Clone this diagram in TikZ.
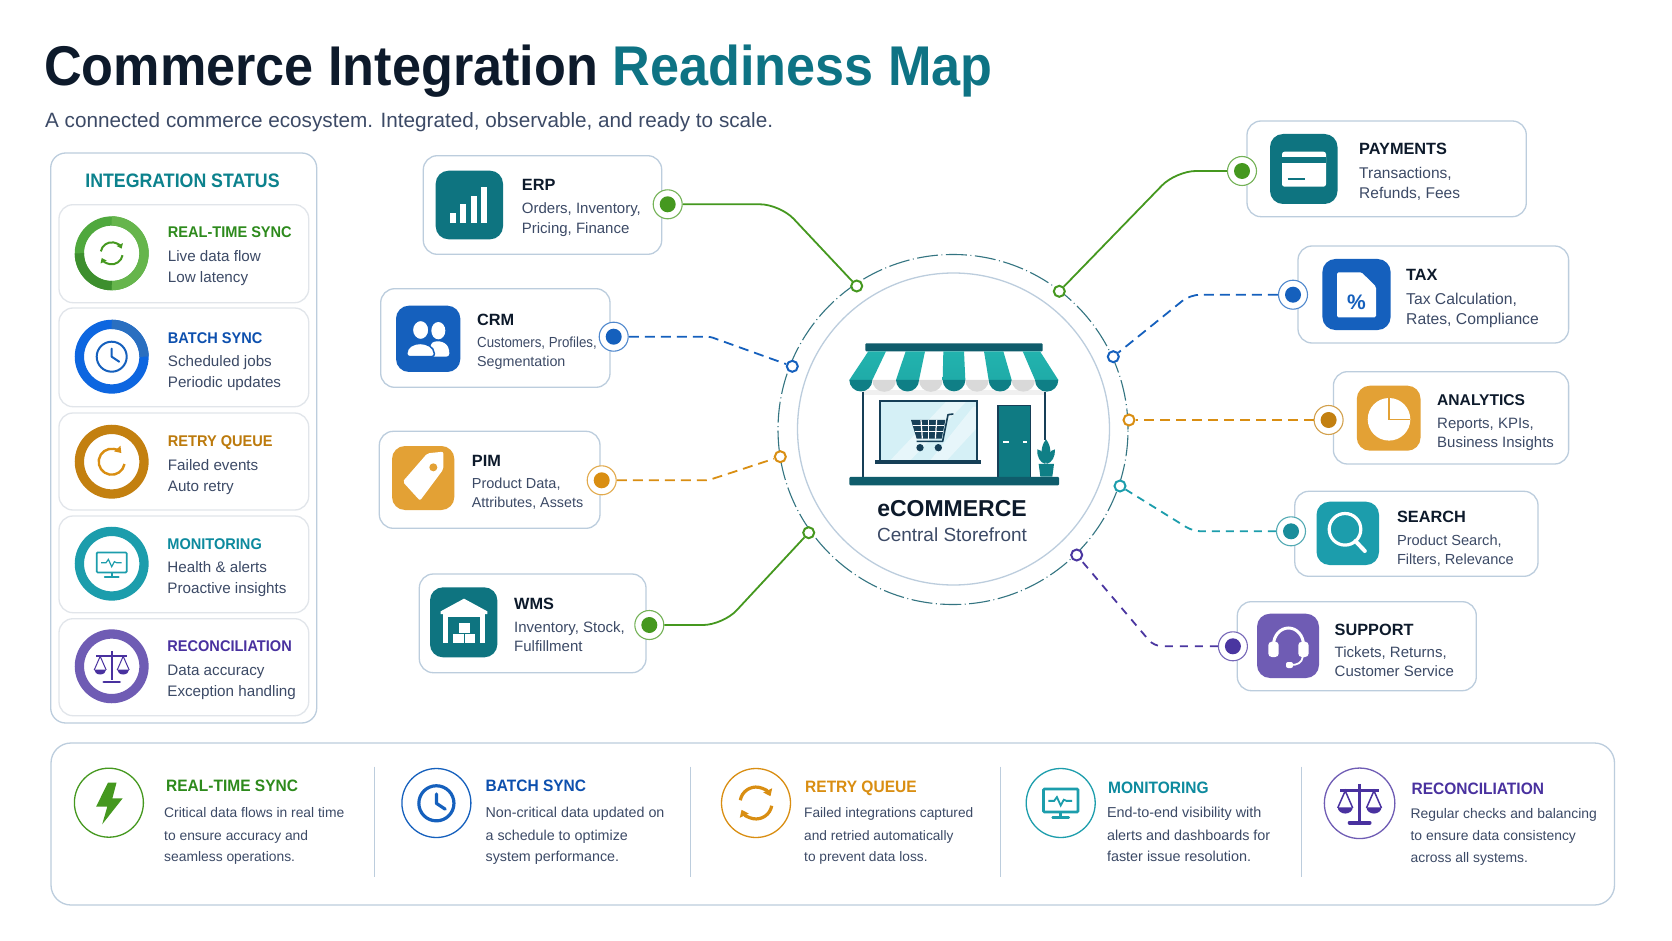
\documentclass[tikz,border=0pt]{standalone}
\usepackage{fontspec}
\setmainfont{Liberation Sans}
\newfontfamily\titlefont[FakeStretch=0.932]{Liberation Sans}
\newfontfamily\headfont[FakeStretch=0.94]{Liberation Sans}
\newfontfamily\slimfont[FakeStretch=0.91]{Liberation Sans}
\usetikzlibrary{arrows.meta}

\definecolor{inkdark}{HTML}{0D1A2B}
\definecolor{inkbody}{HTML}{3C4A66}
\definecolor{panelline}{HTML}{BCCDDD}
\definecolor{softline}{HTML}{E1E5EA}
\definecolor{tealhead}{HTML}{0E7384}
\definecolor{tealtile}{HTML}{0E7480}
\definecolor{navyteal}{HTML}{0F5C6B}
\definecolor{awning}{HTML}{22B3AE}
\definecolor{awningdark}{HTML}{0F7F86}
\definecolor{storeline}{HTML}{163F57}
\definecolor{glass}{HTML}{D5F0F6}
\definecolor{greenline}{HTML}{45981F}
\definecolor{greenring}{HTML}{4FA83D}
\definecolor{greenlight}{HTML}{66B54C}
\definecolor{greendark}{HTML}{3D8F2E}
\definecolor{greenhead}{HTML}{2D8A1C}
\definecolor{blueline}{HTML}{1560BD}
\definecolor{bluering}{HTML}{0D66E0}
\definecolor{bluesoft}{HTML}{2A6FC0}
\definecolor{bluehead}{HTML}{0D50AE}
\definecolor{orangeline}{HTML}{D98E12}
\definecolor{orangetile}{HTML}{E3A135}
\definecolor{orangehead}{HTML}{BC7A0C}
\definecolor{cyanline}{HTML}{1C9DAC}
\definecolor{cyanhead}{HTML}{0D8A9E}
\definecolor{purpleline}{HTML}{6F5CB4}
\definecolor{purpledot}{HTML}{4A36A0}
\definecolor{purplehead}{HTML}{49319F}

\newcommand{\fs}[1]{\fontsize{#1}{#1}\selectfont}

% x, y, scale, colour, line width
\newcommand{\iconsync}[5]{\begin{scope}[shift={(#1,#2)},scale=#3]
\draw[#4,line width=#5,-{Triangle[length=4.5pt,width=6.5pt,scale=#3]}] (190:11) arc (190:335:11);
\draw[#4,line width=#5,-{Triangle[length=4.5pt,width=6.5pt,scale=#3]}] (10:11) arc (10:155:11);
\end{scope}}
\newcommand{\iconclock}[5]{\begin{scope}[shift={(#1,#2)},scale=#3]
\draw[#4,line width=#5] (0,0) circle (15);
\draw[#4,line width=#5,line cap=round,line join=round] (0,-8) -- (0,0) -- (7.5,5);
\end{scope}}
\newcommand{\iconmonitor}[5]{\begin{scope}[shift={(#1,#2)},scale=#3]
\draw[#4,line width=#5,rounded corners=1pt] (-15,-11.3) rectangle (15,8.7);
\draw[#4,line width=#5] (0,8.7) -- (0,13);
\draw[#4,line width=#5,line cap=round] (-7,13.5) -- (7,13.5);
\draw[#4,line width=#5*0.7] (-10.7,-1) -- (-5.7,-1) -- (-3.3,-4.3) -- (0,3) -- (2.7,-2) -- (5,-1) -- (10,-1);
\end{scope}}
\newcommand{\iconscales}[5]{\begin{scope}[shift={(#1,#2)},scale=#3]
\draw[#4,line width=#5] (0,-15.5) -- (0,14);
\draw[#4,line width=#5] (-15.5,-10.3) -- (15.5,-10.3);
\draw[#4,line width=#5*1.3,line cap=round] (-8,15.5) -- (8,15.5);
\draw[#4,line width=#5*0.5] (-17.5,3.7) -- (-11.5,-10) -- (-5.5,3.7);
\draw[#4,line width=#5*0.5] (17.5,3.7) -- (11.5,-10) -- (5.5,3.7);
\fill[#4] (-17.5,3.2) arc (180:0:6 and 5) -- cycle;
\fill[#4] (5.5,3.2) arc (180:0:6 and 5) -- cycle;
\end{scope}}

\tikzset{
  outerbox/.style={draw=panelline,line width=1.3,fill=white,rounded corners=15,inner sep=0pt},
  softbox/.style={draw=softline,line width=1.3,fill=white,rounded corners=14,inner sep=0pt},
  syscard/.style={draw=panelline,line width=1.3,fill=white,rounded corners=14,inner sep=0pt},
  txt/.style={anchor=base west,inner sep=0pt,text=inkbody},
  mainhead/.style={txt,font=\bfseries\fs{16.3},text=inkdark},
  mainline/.style={txt,font=\fs{15}},
  stathead/.style={txt,font=\headfont\bfseries\fs{15.5},text=#1},
  statline/.style={txt,font=\fs{15.2}},
  bothead/.style={txt,font=\headfont\bfseries\fs{16.5},text=#1},
  botline/.style={txt,font=\fs{#1}},
  statring/.style={circle,draw=#1,line width=9.3,fill=white,minimum size=64.6,inner sep=0pt},
  botring/.style={circle,draw=#1,line width=1.3,fill=white,minimum size=69,inner sep=0pt},
  bigport/.style={circle,draw=#1!75,line width=1.1,fill=white,minimum size=29,inner sep=0pt,
    path picture={\fill[#1] (path picture bounding box.center) circle (8pt);}},
  hubport/.style={circle,draw=#1,line width=2,fill=white,minimum size=11,inner sep=0pt},
  link/.style={line width=1.8,#1},
  divider/.style={draw=panelline,line width=1},
}

\begin{document}
\begin{tikzpicture}[x=1pt,y=-1pt]
\useasboundingbox (0,0) rectangle (1672,941);
\fill[white] (0,0) rectangle (1672,941);

% heading
\node[txt,font=\titlefont\bfseries\fs{56},text=inkdark] (maintitle) at (44,85.5) {Commerce Integration \textcolor{tealhead}{Readiness Map}};
\node[txt,font=\fs{20.7}] (subtitle) at (45,128) {A connected commerce ecosystem. Integrated, observable, and ready to scale.};

% status panel
\node[outerbox,minimum width=266,minimum height=570] (statuspanel) at (183.7,438) {};
\node[anchor=base,inner sep=0pt,font=\slimfont\bfseries\fs{19.5},text=tealtile!90!cyan] (statustitle) at (182.5,188) {INTEGRATION STATUS};
\node[softbox,minimum width=249.7,minimum height=98] (statsync) at (183.85,253.7) {};
\node[softbox,minimum width=249.7,minimum height=98.7] (statbatch) at (183.85,357.35) {};
\node[softbox,minimum width=249.7,minimum height=97] (statretry) at (183.85,461.5) {};
\node[softbox,minimum width=249.7,minimum height=96.7] (statmon) at (183.85,564.35) {};
\node[softbox,minimum width=249.7,minimum height=97] (statrec) at (183.85,667.2) {};

\node[statring=greenring] (syncring) at (111.7,253.3) {};
\draw[line width=9.3,greenlight] (111.7,220.95) arc (270:450:32.35);
\draw[line width=9.3,greendark] (111.7,285.65) arc (90:180:32.35);
\iconsync{111.7}{253.3}{1}{greenline}{2}
\node[statring=bluering] (batchring) at (111.7,356.7) {};
\draw[line width=9.3,bluesoft] (111.7,324.35) arc (270:360:32.35);
\iconclock{111.7}{356.7}{1}{blueline}{2}
\node[statring=orangeline!90!black] (retryring) at (111.7,461.7) {};
\draw[orangeline,line width=2.4,-{Triangle[length=6pt,width=8pt]}] (124.5,464) arc (10:318:13);
\node[statring=cyanline] (monring) at (111.7,563.7) {};
\iconmonitor{111.7}{563.7}{1}{cyanline}{1.7}
\node[statring=purpleline] (recring) at (111.7,666.3) {};
\iconscales{111.7}{666.3}{1}{purplehead}{2}

\node[stathead=greenhead] (syncname) at (167.7,238) {REAL-TIME SYNC};
\node[statline] (syncone) at (167.7,261.7) {Live data flow};
\node[statline] (synctwo) at (167.7,282.7) {Low latency};
\node[stathead=bluehead] (batchname) at (167.7,343) {BATCH SYNC};
\node[statline] (batchone) at (167.7,366) {Scheduled jobs};
\node[statline] (batchtwo) at (167.7,387) {Periodic updates};
\node[stathead=orangehead] (retryname) at (167.7,446.7) {RETRY QUEUE};
\node[statline] (retryone) at (167.7,470) {Failed events};
\node[statline] (retrytwo) at (167.7,491) {Auto retry};
\node[stathead=cyanhead] (monname) at (167.2,549) {MONITORING};
\node[statline] (monone) at (167.2,572) {Health \& alerts};
\node[statline] (montwo) at (167.2,593) {Proactive insights};
\node[stathead=purplehead] (recname) at (167.2,651.7) {RECONCILIATION};
\node[statline] (recone) at (167.2,675) {Data accuracy};
\node[statline] (rectwo) at (167.2,696) {Exception handling};

% hub
\node[circle,draw=panelline,line width=1.3,minimum size=312,inner sep=0pt] (hub) at (953.5,429) {};
\node[circle,draw=navyteal!85,line width=1.1,dash pattern=on 21pt off 3.5pt on 1pt off 3.5pt,minimum size=350,inner sep=0pt] (hubring) at (953,429.5) {};

% store
\begin{scope}[shift={(760,240)},scale=1/3]
\fill[black!6] (310,450) rectangle (855,472);
\fill[white] (310,466) rectangle (855,712);
\draw[storeline,line width=2] (308,455) -- (308,712);
\draw[storeline,line width=2] (856,455) -- (856,600);
\fill[navyteal,rounded corners=1pt] (316,310) rectangle (848,334);
\shade[top color=awning,bottom color=awning!85!awningdark] (325,334) -- (378,334) -- (337,420) -- (268,420) -- cycle;
\shade[top color=awning,bottom color=awning!85!awningdark] (437,334) -- (495,334) -- (477,420) -- (408,420) -- cycle;
\shade[top color=awning,bottom color=awning!85!awningdark] (550,334) -- (612,334) -- (616,420) -- (548,420) -- cycle;
\shade[top color=awning,bottom color=awning!85!awningdark] (672,334) -- (730,334) -- (755,420) -- (686,420) -- cycle;
\shade[top color=awning,bottom color=awning!85!awningdark] (788,334) -- (840,334) -- (895,420) -- (825,420) -- cycle;
\fill[black!15] (337,420) arc (180:0:35.5) -- cycle;
\fill[black!15] (477,420) arc (180:0:35.5) -- cycle;
\fill[black!15] (616,420) arc (180:0:35) -- cycle;
\fill[black!15] (755,420) arc (180:0:35) -- cycle;
\fill[awningdark] (268,420) arc (180:0:34.5) -- cycle;
\fill[awningdark] (408,420) arc (180:0:34.5) -- cycle;
\fill[awningdark] (548,420) arc (180:0:34) -- cycle;
\fill[awningdark] (686,420) arc (180:0:34.5) -- cycle;
\fill[awningdark] (825,420) arc (180:0:35) -- cycle;
% window
\fill[glass] (358,483) rectangle (654,662);
\begin{scope}
\clip (358,483) rectangle (654,662);
\fill[white,opacity=.45] (560,483) -- (620,483) -- (450,662) -- (390,662) -- cycle;
\fill[white,opacity=.45] (640,500) -- (654,500) -- (654,560) -- (560,662) -- (510,662) -- cycle;
\end{scope}
\draw[storeline,line width=2.2] (360,484) rectangle (652,662);
\fill[storeline] (346,660) rectangle (664,672);
% cart
\fill[storeline] (453,540) -- (556,540) -- (545,596) -- (470,596) -- cycle;
\draw[white,line width=1.2] (458,556) -- (552,556);
\draw[white,line width=1.2] (464,574) -- (548,574);
\draw[white,line width=1.2] (483,540) -- (487,596);
\draw[white,line width=1.2] (506,540) -- (506,596);
\draw[white,line width=1.2] (530,540) -- (526,596);
\draw[storeline,line width=1.6,line join=round] (580,522) -- (564,524) -- (548,604) -- (470,604);
\fill[storeline] (480,623) circle (11);
\fill[storeline] (535,623) circle (11);
% door
\fill[awningdark!90!navyteal] (714,496) rectangle (812,712);
\draw[storeline,line width=1.4] (714,712) -- (714,496) -- (812,496) -- (812,712);
\fill[white] (728,603) rectangle (746,609);
\fill[white] (790,603) rectangle (802,609);
% plant
\fill[awningdark] (858,598) .. controls (880,625) and (870,660) .. (858,670) .. controls (846,660) and (836,625) .. (858,598);
\fill[awningdark] (832,628) .. controls (850,630) and (856,650) .. (856,672) .. controls (840,668) and (830,650) .. (832,628);
\fill[awningdark] (885,628) .. controls (868,630) and (860,650) .. (860,672) .. controls (876,668) and (886,650) .. (885,628);
\fill[awningdark] (836,672) -- (882,672) -- (877,710) -- (841,710) -- cycle;
\fill[navyteal,rounded corners=1pt] (268,711) rectangle (897,736);
\end{scope}
\node[anchor=base,inner sep=0pt,font=\bfseries\fs{23},text=inkdark] (hubname) at (952,516) {eCOMMERCE};
\node[anchor=base,inner sep=0pt,font=\fs{19},text=inkbody] (hubsub) at (952,541.7) {Central Storefront};

% left cards
\node[syscard,minimum width=238.4,minimum height=98.6] (erp) at (542.5,205) {};
\node[syscard,minimum width=229.3,minimum height=98.6] (crm) at (495.35,338) {};
\node[syscard,minimum width=220.7,minimum height=97] (pim) at (489.65,479.8) {};
\node[syscard,minimum width=226.7,minimum height=98.7] (wms) at (532.65,623.35) {};

\begin{scope}[shift={(370,140)},scale=1/3]
\fill[tealtile,rounded corners=13pt] (197,92) rectangle (399,298);
\fill[white] (240,220) rectangle (258,250);
\fill[white] (271,193) rectangle (289,250);
\fill[white] (302,167) rectangle (320,250);
\fill[white] (333,140) rectangle (352,250);
\fill[blueline,rounded corners=13pt] (78,497) rectangle (271,696);
\fill[white] (205,572) ellipse (21 and 26);
\fill[white,rounded corners=3pt] (180,650) -- (180,620) .. controls (190,600) and (225,600) .. (238,630) -- (238,650) -- cycle;
\fill[white,draw=blueline,line width=1.5] (152,570) ellipse (25 and 29);
\fill[white,draw=blueline,line width=1.5,rounded corners=3pt] (110,650) .. controls (110,600) and (190,600) .. (194,650) -- cycle;
\end{scope}

\begin{scope}[shift={(370,410)},scale=1/3]
\fill[orangetile,rounded corners=13pt] (66,108) rectangle (253,300);
\fill[white,rounded corners=2pt] (98,215) -- (172,130) -- (220,125) -- (220,178) -- (150,272) -- cycle;
\fill[orangetile] (190,172) circle (12);
\fill[tealtile,rounded corners=13pt] (180,532) rectangle (382,742);
\fill[white] (212,604) -- (282,566) -- (352,604) -- (352,612) -- (212,612) -- cycle;
\fill[white] (218,612) rectangle (234,700);
\fill[white] (329,612) rectangle (345,700);
\fill[white] (234,612) rectangle (329,622);
\fill[white] (266,640) rectangle (300,668);
\fill[white] (248,672) rectangle (281,700);
\fill[white] (285,672) rectangle (316,700);
\end{scope}

\node[mainhead] (erpname) at (521.7,190.7) {ERP};
\node[mainline] (erpone) at (521.7,214) {Orders, Inventory,};
\node[mainline] (erptwo) at (521.7,233.3) {Pricing, Finance};
\node[mainhead] (crmname) at (477,325.7) {CRM};
\node[mainline,font=\slimfont\fs{14.6}] (crmone) at (477,347.3) {Customers, Profiles,};
\node[mainline,font=\fs{14.3}] (crmtwo) at (477,366.7) {Segmentation};
\node[mainhead] (pimname) at (471.7,466) {PIM};
\node[mainline,font=\fs{14.5}] (pimone) at (471.7,488.3) {Product Data,};
\node[mainline,font=\fs{14.3}] (pimtwo) at (471.7,507.3) {Attributes, Assets};
\node[mainhead] (wmsname) at (514,609.3) {WMS};
\node[mainline] (wmsone) at (514,632.3) {Inventory, Stock,};
\node[mainline] (wmstwo) at (514,651.7) {Fulfillment};

% right cards
\node[syscard,minimum width=279.3,minimum height=95.7] (pay) at (1386.65,168.85) {};
\node[syscard,minimum width=270.6,minimum height=97] (tax) at (1433.3,294.5) {};
\node[syscard,minimum width=235.2,minimum height=92.3] (ana) at (1451,417.85) {};
\node[syscard,minimum width=243.2,minimum height=85] (sea) at (1416.4,533.8) {};
\node[syscard,minimum width=239,minimum height=89] (sup) at (1356.8,646.2) {};

\fill[tealtile,rounded corners=13pt] (1270,134) rectangle (1337.5,204);
\fill[white,rounded corners=2.5pt] (1282,151.7) rectangle (1326,186.7);
\fill[tealtile] (1282,157.5) rectangle (1326,163);
\draw[tealtile,line width=1.6] (1287.5,179) -- (1304.5,179);
\fill[blueline,rounded corners=13pt] (1322.4,259) rectangle (1390.6,330);
\fill[white,rounded corners=1.5pt] (1337,272.3) -- (1361.5,272.3) -- (1376,286.7) -- (1376,317.3) -- (1337,317.3) -- cycle;
\node[inner sep=0pt,font=\bfseries\fs{21},text=blueline] (taxmark) at (1356.5,302) {\%};
\fill[orangetile,rounded corners=13pt] (1356.8,385.7) rectangle (1420.5,450.7);
\fill[white] (1389,419.3) circle (21.3);
\draw[orangetile,line width=1.4] (1389,398) -- (1389,419.3) -- (1410.3,419.3);
\fill[cyanline,rounded corners=13pt] (1316.5,501.7) rectangle (1379,565);
\draw[white,line width=3.2] (1345,529.3) circle (15.8);
\draw[white,line width=4,line cap=round] (1355.4,541) -- (1364.8,551);
\fill[purpleline,rounded corners=13pt] (1257,613.7) rectangle (1319,678);
\draw[white,line width=3] (1273.5,645) arc (180:360:15 and 17);
\fill[white,rounded corners=3.5pt] (1268.3,641.7) rectangle (1278.7,657);
\fill[white,rounded corners=3.5pt] (1298.3,641.7) rectangle (1308.6,657);
\draw[white,line width=1.8] (1302.8,656.7) .. controls (1302,663) and (1297,665) .. (1291,665);
\fill[white,rounded corners=2pt] (1286,662) rectangle (1293,668);

\node[mainhead] (payname) at (1359,155) {PAYMENTS};
\node[mainline,font=\fs{15.5}] (payone) at (1359,178.3) {Transactions,};
\node[mainline,font=\fs{15.5}] (paytwo) at (1359,198.3) {Refunds, Fees};
\node[mainhead] (taxname) at (1406,280.7) {TAX};
\node[mainline,font=\fs{15.7}] (taxone) at (1406,304.3) {Tax Calculation,};
\node[mainline,font=\fs{15.7}] (taxtwo) at (1406,324) {Rates, Compliance};
\node[mainhead,font=\bfseries\fs{15.6}] (ananame) at (1437,405.7) {ANALYTICS};
\node[mainline] (anaone) at (1437,428.3) {Reports, KPIs,};
\node[mainline] (anatwo) at (1437,447.3) {Business Insights};
\node[mainhead] (seaname) at (1396.8,522.3) {SEARCH};
\node[mainline,font=\fs{14.6}] (seaone) at (1396.8,545) {Product Search,};
\node[mainline,font=\fs{14.6}] (seatwo) at (1396.8,564) {Filters, Relevance};
\node[mainhead] (supname) at (1334.5,635) {SUPPORT};
\node[mainline] (supone) at (1334.5,657.3) {Tickets, Returns,};
\node[mainline] (suptwo) at (1334.5,676) {Customer Service};

% ports on cards
\node[bigport=greenline] (erpport) at (667.7,204.3) {};
\node[bigport=blueline] (crmport) at (613.7,336.7) {};
\node[bigport=orangeline] (pimport) at (601.7,480.3) {};
\node[bigport=greenline] (wmsport) at (649.3,625) {};
\node[bigport=greenline] (payport) at (1242,171) {};
\node[bigport=blueline] (taxport) at (1293,294.7) {};
\node[bigport=orangeline!90!black] (anaport) at (1328.6,420) {};
\node[bigport=cyanline!90!black] (seaport) at (1291,531.3) {};
\node[bigport=purpledot] (support) at (1232.9,646.3) {};

% ports on the ring
\node[hubport=greenline] (erpdot) at (856.7,286) {};
\node[hubport=blueline] (crmdot) at (792.3,366.3) {};
\node[hubport=orangeline] (pimdot) at (780.3,456.7) {};
\node[hubport=greenline] (wmsdot) at (808.7,532.7) {};
\node[hubport=greenline] (paydot) at (1059.3,291.3) {};
\node[hubport=blueline] (taxdot) at (1113.3,356.7) {};
\node[hubport=orangeline] (anadot) at (1129,420) {};
\node[hubport=cyanline] (seadot) at (1120,486) {};
\node[hubport=purpledot] (supdot) at (1076.7,555) {};

% links
\coordinate (erpbend) at (780,204.3);
\coordinate (crmbend) at (710,336.7);
\coordinate (pimbend) at (708,480.3);
\coordinate (wmsbend) at (723,625);
\coordinate (paybend) at (1176,171);
\coordinate (taxbend) at (1190,294.7);
\coordinate (seabend) at (1193,531.3);
\coordinate (supbend) at (1154,646.3);
\draw[link=greenline,rounded corners=20pt] (erpport) -- (erpbend) -- (erpdot);
\draw[link=blueline,rounded corners=3pt,dash pattern=on 10pt off 6pt] (crmport) -- (crmbend) -- (crmdot);
\draw[link=orangeline,rounded corners=3pt,dash pattern=on 10pt off 6pt] (pimport) -- (pimbend) -- (pimdot);
\draw[link=greenline,rounded corners=20pt] (wmsport) -- (wmsbend) -- (wmsdot);
\draw[link=greenline,rounded corners=20pt] (payport) -- (paybend) -- (paydot);
\draw[link=blueline,rounded corners=10pt,dash pattern=on 10pt off 6pt] (taxport) -- (taxbend) -- (taxdot);
\draw[link=orangeline,dash pattern=on 10pt off 6pt] (anaport) -- (anadot);
\draw[link=cyanline,rounded corners=8pt,dash pattern=on 8pt off 6pt] (seaport) -- (seabend) -- (seadot);
\draw[link=purpledot,rounded corners=8pt,dash pattern=on 8pt off 7pt] (support) -- (supbend) -- (supdot);

% bottom legend
\node[outerbox,rounded corners=20,minimum width=1563.5,minimum height=162] (legend) at (832.75,824) {};
\draw[divider] (374.2,766.7) -- (374.2,877.3);
\draw[divider] (690.5,766.7) -- (690.5,877.3);
\draw[divider] (1000.7,766.7) -- (1000.7,877.3);
\draw[divider] (1301.7,766.7) -- (1301.7,877.3);

\node[botring=greenline] (botsync) at (108.9,802.7) {};
\fill[greenline] (107.9,782.7) -- (116.5,782.7) -- (112.4,798.3) -- (122.7,798.3) -- (102.2,824.3) -- (107.3,806.7) -- (96.1,806.7) -- cycle;
\node[botring=blueline] (botbatch) at (436.4,803) {};
\iconclock{436.4}{803.3}{1.17}{blueline}{3.2}
\node[botring=orangeline] (botretry) at (756,803) {};
\iconsync{756}{803}{1.45}{orangeline}{3.2}
\node[botring=cyanline] (botmon) at (1060.7,803) {};
\iconmonitor{1060.7}{802}{1.15}{cyanline}{2.6}
\node[botring=purpleline,minimum size=70.5] (botrec) at (1359.6,803.3) {};
\iconscales{1359.6}{803.3}{1.25}{purplehead}{3}

\node[bothead=greenhead] (lsyncname) at (166,791) {REAL-TIME SYNC};
\node[botline=13.85] (lsyncone) at (164,817.7) {Critical data flows in real time};
\node[botline=13.85] (lsynctwo) at (164,840) {to ensure accuracy and};
\node[botline=13.85] (lsyncthree) at (164,861.7) {seamless operations.};
\node[bothead=bluehead] (lbatchname) at (485.4,791) {BATCH SYNC};
\node[botline=14.3] (lbatchone) at (485.4,817.7) {Non-critical data updated on};
\node[botline=14.3] (lbatchtwo) at (485.4,840) {a schedule to optimize};
\node[botline=14.3] (lbatchthree) at (485.4,861.7) {system performance.};
\node[bothead=orangeline] (lretryname) at (805,792.3) {RETRY QUEUE};
\node[botline=13.7] (lretryone) at (804,817.7) {Failed integrations captured};
\node[botline=13.7] (lretrytwo) at (804,840) {and retried automatically};
\node[botline=13.7] (lretrythree) at (804,861.7) {to prevent data loss.};
\node[bothead=cyanhead] (lmonname) at (1107.9,793.3) {MONITORING};
\node[botline=14.4] (lmonone) at (1106.8,817.7) {End-to-end visibility with};
\node[botline=14.4] (lmontwo) at (1106.8,840) {alerts and dashboards for};
\node[botline=14.4] (lmonthree) at (1106.8,861.7) {faster issue resolution.};
\node[bothead=purplehead] (lrecname) at (1411.4,794.3) {RECONCILIATION};
\node[botline=13.9] (lrecone) at (1410.4,818) {Regular checks and balancing};
\node[botline=13.9] (lrectwo) at (1410.4,840) {to ensure data consistency};
\node[botline=13.9] (lrecthree) at (1410.4,862) {across all systems.};
\end{tikzpicture}
\end{document}
